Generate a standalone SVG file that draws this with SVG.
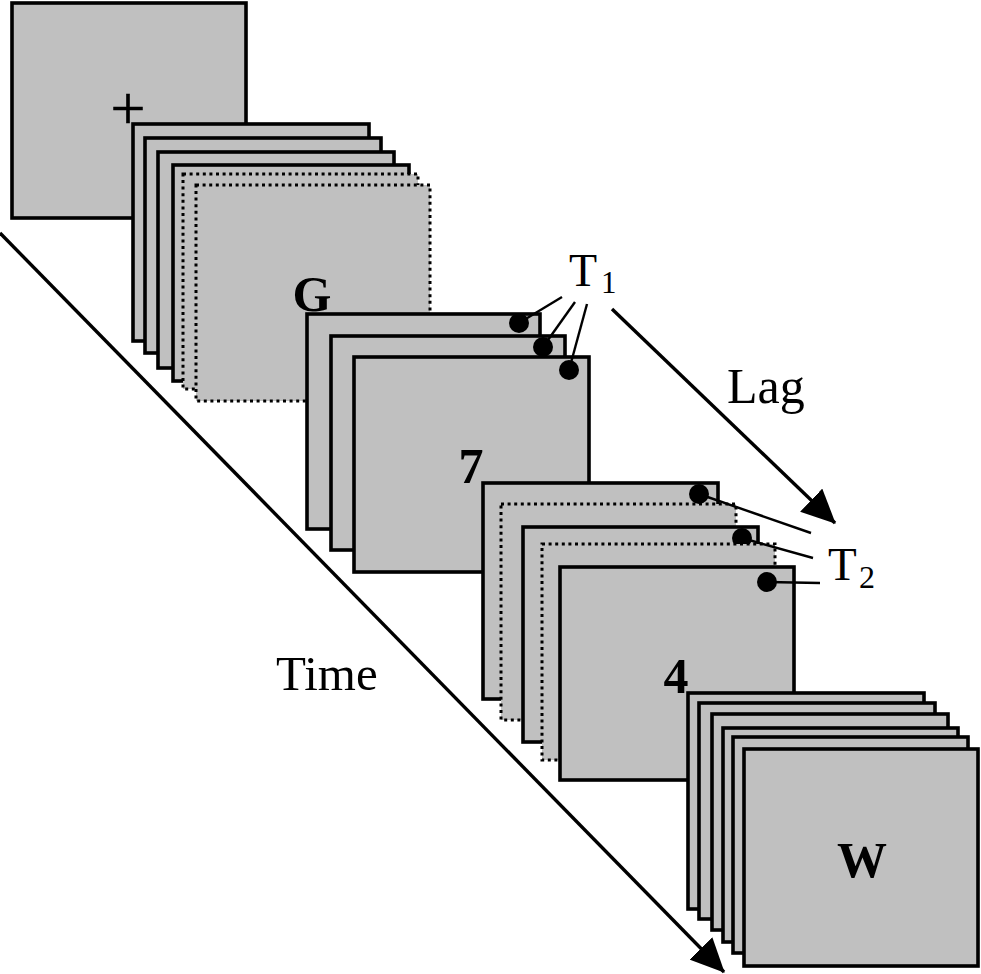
<svg xmlns="http://www.w3.org/2000/svg" width="981" height="974" viewBox="0 0 981 974">
<defs>
<style>
.fr{fill:#c0c0c0;stroke:#000;stroke-width:3.6}
.dt{fill:#c0c0c0;stroke:#000;stroke-width:3;stroke-dasharray:3 3.6}
.ln{stroke:#000;stroke-width:3.4;fill:none}
.th{stroke:#000;stroke-width:2.4;fill:none}
.dot{fill:#000}
.lbl{font-family:"Liberation Serif","Times New Roman",serif;fill:#000}
.big{font-family:"Liberation Serif","Times New Roman",serif;font-weight:bold;font-size:50px;fill:#000;text-anchor:middle}
</style>
<marker id="ah" markerUnits="userSpaceOnUse" markerWidth="34" markerHeight="32" viewBox="0 0 34 32" refX="33" refY="16" orient="auto">
<path d="M0,0 L34,16 L0,32 z" fill="#000"/>
</marker>
</defs>
<g id="fixation">
<rect class="fr" x="12" y="3" width="234" height="215"/>
<text class="lbl" x="128" y="129" font-size="62" text-anchor="middle" stroke="#000" stroke-width="0.6">+</text>
</g>
<g id="stackG">
<rect class="fr" x="133" y="124" width="236" height="217"/>
<rect class="fr" x="145" y="138" width="236" height="215"/>
<rect class="fr" x="158" y="152" width="236" height="216"/>
<rect class="fr" x="173" y="165" width="236" height="216"/>
<rect class="dt" x="183" y="174" width="235" height="215"/>
<rect class="dt" x="196" y="185" width="234" height="216"/>
<text class="big" x="312" y="311">G</text>
</g>
<g id="stack7">
<rect class="fr" x="307" y="314" width="233" height="215"/>
<circle class="dot" cx="519" cy="323" r="10"/>
<rect class="fr" x="331" y="336" width="234" height="214"/>
<circle class="dot" cx="543" cy="347" r="10"/>
<rect class="fr" x="354" y="357" width="235" height="215"/>
<circle class="dot" cx="569" cy="370" r="10"/>
<text class="big" x="471" y="483">7</text>
</g>
<g id="stack4">
<rect class="fr" x="483" y="483" width="235" height="216"/>
<circle class="dot" cx="699" cy="494" r="10"/>
<rect class="dt" x="501" y="504" width="235" height="216"/>
<rect class="fr" x="523" y="527" width="235" height="215"/>
<circle class="dot" cx="742" cy="538" r="10"/>
<rect class="dt" x="542" y="544" width="233" height="216"/>
<rect class="fr" x="560" y="567" width="234" height="213"/>
<circle class="dot" cx="767" cy="582" r="10"/>
<text class="big" x="676" y="693">4</text>
</g>
<g id="stackW">
<rect class="fr" x="688" y="693" width="236" height="216"/>
<rect class="fr" x="699" y="703" width="236" height="216"/>
<rect class="fr" x="712" y="714" width="236" height="216"/>
<rect class="fr" x="723" y="728" width="235" height="214"/>
<rect class="fr" x="733" y="737" width="235" height="216"/>
<rect class="fr" x="744" y="749" width="234" height="217"/>
<text class="big" x="862" y="877">W</text>
</g>
<g id="connectors">
<line class="ln" x1="0" y1="233" x2="724" y2="972" marker-end="url(#ah)"/>
<line class="ln" x1="612" y1="309" x2="835" y2="523" marker-end="url(#ah)"/>
<line class="th" x1="519" y1="323" x2="562" y2="297"/>
<line class="th" x1="543" y1="347" x2="575" y2="302"/>
<line class="th" x1="569" y1="370" x2="587" y2="304"/>
<line class="th" x1="699" y1="494" x2="811" y2="533"/>
<line class="th" x1="742" y1="538" x2="813" y2="558"/>
<line class="th" x1="767" y1="582" x2="820" y2="583"/>
</g>
<g id="labels">
<text class="lbl" x="276" y="690" font-size="49">Time</text>
<text class="lbl" x="727" y="403" font-size="50">Lag</text>
<text class="lbl" x="569" y="286" font-size="46">T</text>
<text class="lbl" x="601" y="293" font-size="31">1</text>
<text class="lbl" x="828" y="580" font-size="47">T</text>
<text class="lbl" x="859" y="588" font-size="32">2</text>
</g>
</svg>
